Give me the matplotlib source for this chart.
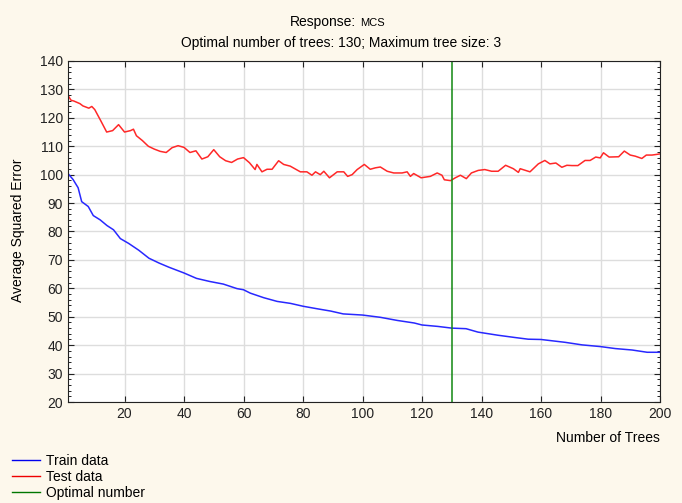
import matplotlib.pyplot as plt
from matplotlib.lines import Line2D

train_x = [1, 2.7, 4.4, 5.6, 7.8, 9.5, 11.8, 14.1, 16.3, 18.6, 21.4, 24.8, 28.2, 31.6, 35,
           40, 44.2, 48.7, 53.2, 57.8, 60, 62.3, 66.8, 71.3, 75.8, 80, 84.8, 89.3, 93.5,
           100, 106, 111.7, 117.4, 120, 125.3, 130, 134.8, 138.8, 145.5, 151.2, 155.7,
           160, 168.1, 173.8, 180, 185, 190.6, 195.7, 200]
train_y = [100.4, 98.3, 95.4, 90.5, 88.8, 85.6, 84.1, 82.1, 80.6, 77.5, 75.8, 73.4, 70.6,
           68.9, 67.4, 65.4, 63.5, 62.4, 61.5, 59.9, 59.5, 58.3, 56.7, 55.4, 54.7, 53.7,
           52.8, 52.0, 51.0, 50.6, 49.8, 48.7, 47.8, 47.1, 46.6, 46.0, 45.8, 44.6, 43.5,
           42.7, 42.1, 42.0, 41.0, 40.1, 39.5, 38.8, 38.3, 37.5, 37.5]

test_x = [1, 2, 3, 5, 6, 8, 9, 10, 12, 14, 16, 18, 20, 22, 23, 24, 26, 28, 30, 32, 34, 36,
          38, 40, 42, 44, 46, 48, 50, 52, 54, 56, 58, 60, 62, 63.9, 64.5, 66.2, 67.9, 69.6,
          71.8, 73.5, 75.7, 79.1, 81.3, 83, 84.2, 85.8, 87, 88.9, 91.5, 93.7, 95, 96.5,
          98.2, 100.6, 102.6, 104.3, 106, 108.3, 110.5, 113.3, 115, 116.1, 117.2, 119.7,
          122.8, 125.1, 126.7, 127.5, 129.6, 131.2, 132.9, 134.9, 136.6, 138.9, 141.1,
          143.4, 145.6, 148.1, 150.7, 152.4, 153, 156.3, 159.1, 161.3, 163, 165, 167,
          168.7, 170.4, 172.4, 174.8, 176.5, 178.4, 179.9, 181, 182.9, 186.1, 188, 190,
          191.7, 193.9, 195.4, 197.3, 200]
test_y = [127.9, 126.2, 125.9, 125.0, 124.2, 123.4, 124.0, 122.9, 119.0, 115.0, 115.5,
          117.6, 115.0, 115.5, 116.0, 113.7, 112.0, 110.0, 109.0, 108.2, 107.8, 109.5,
          110.2, 109.6, 107.8, 108.4, 105.5, 106.3, 108.8, 106.3, 104.9, 104.3, 105.5,
          106.0, 104.2, 101.8, 103.6, 101.0, 101.9, 101.9, 104.9, 103.6, 103.0, 101.0,
          101.0, 99.8, 101.0, 100.0, 101.2, 98.9, 101.0, 101.0, 99.4, 100.0, 101.8,
          103.6, 101.9, 102.4, 102.7, 101.2, 100.6, 100.6, 101.0, 99.4, 100.4, 98.9, 99.4,
          100.6, 99.8, 98.2, 97.9, 98.9, 99.8, 98.6, 100.6, 101.5, 101.8, 101.2, 101.2,
          103.3, 102.1, 100.8, 102.1, 101.0, 103.8, 105.0, 103.8, 104.1, 102.6, 103.3,
          103.2, 103.2, 105.0, 105.0, 106.2, 105.9, 107.7, 106.2, 106.3, 108.3, 106.9,
          106.5, 105.7, 106.9, 106.9, 107.3]

optimal_trees = 130

plt.rcParams['font.family'] = ['Liberation Sans Narrow', 'Liberation Sans', 'DejaVu Sans']
plt.rcParams['font.size'] = 10

bg = '#FDF8EC'
fig = plt.figure(figsize=(6.82, 5.03), dpi=100, facecolor=bg)
ax = fig.add_axes([68 / 682, 1 - 402 / 503, (660 - 68) / 682, (402 - 61) / 503])
ax.set_facecolor('white')

ax.plot(train_x, train_y, color='#2828FF', lw=1.1)
ax.plot(test_x, test_y, color='#FF2828', lw=1.1)
ax.axvline(optimal_trees, color='#118811', lw=1.1)

ax.set_xlim(1, 200)
ax.set_ylim(20, 140)
ax.set_xticks(range(20, 201, 20))
ax.set_yticks(range(20, 141, 10))
ax.set_yticks(range(20, 141, 2), minor=True)
ax.grid(True, color='#DDDDDD', lw=1)
ax.set_axisbelow(True)
ax.tick_params(direction='in', top=True, right=True, length=4, color='#222222',
               labelsize=10, labelcolor='#222222')
ax.tick_params(which='minor', direction='in', left=True, right=True, length=2)
for s in ax.spines.values():
    s.set_color('#222222')

# title: "Response:" in normal size, "MCS" smaller
fig.text(0.5 + 15 / 682, 1 - 22 / 503, 'Response:', ha='right', va='center')
fig.text(0.5 + 19 / 682, 1 - 23 / 503, 'MCS', ha='left', va='center', fontsize=8)
fig.text(0.5, 1 - 43 / 503, 'Optimal number of trees: 130; Maximum tree size: 3',
         ha='center', va='center')

fig.text(18 / 682, 1 - 230 / 503, 'Average Squared Error', rotation=90,
         ha='center', va='center')
fig.text(660 / 682, 1 - 438 / 503, 'Number of Trees', ha='right', va='center')

handles = [Line2D([], [], color='#0000EE', lw=1),
           Line2D([], [], color='#EE0000', lw=1),
           Line2D([], [], color='#007700', lw=1)]
fig.legend(handles, ['Train data', 'Test data', 'Optimal number'],
           loc='lower left', bbox_to_anchor=(2 / 682, -7 / 503), frameon=False,
           handlelength=2.0, handletextpad=0.5, labelspacing=0.15, borderpad=0.2)

fig.savefig('out.png', dpi=100, facecolor=bg)
